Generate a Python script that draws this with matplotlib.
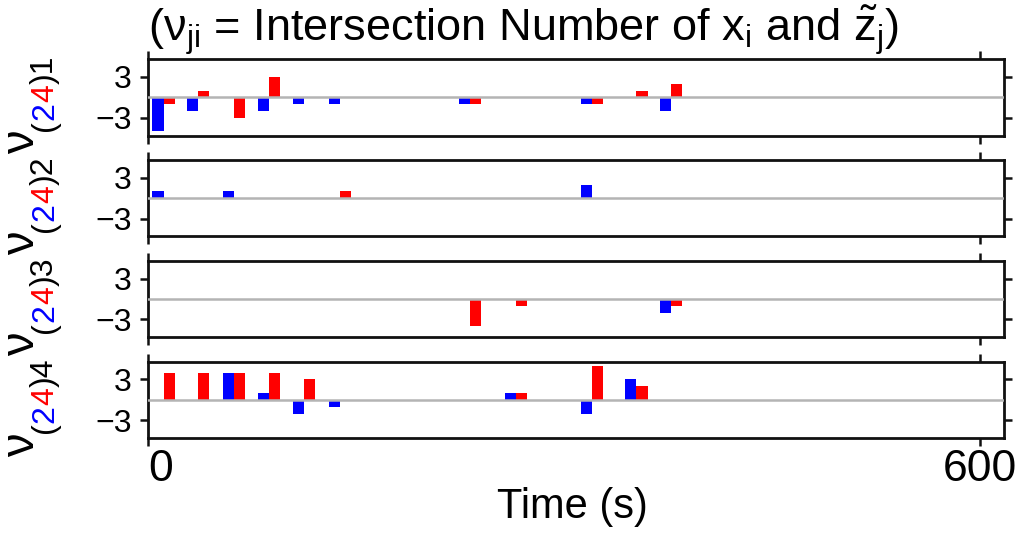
# -*- coding: utf-8 -*-
# 四个面板的交点数柱状图 (blue / red 成对)
import matplotlib.pyplot as plt
from matplotlib.transforms import IdentityTransform

plt.rcParams['font.family'] = ['Liberation Sans', 'DejaVu Sans']
plt.rcParams['mathtext.fontset'] = 'custom'
plt.rcParams['mathtext.rm'] = 'Liberation Sans'
plt.rcParams['mathtext.it'] = 'Liberation Sans'

# 数据：每一对柱子的分界时刻 (s)，蓝柱在左，红柱在右
t_pair = [11, 36, 62, 87, 112, 138, 232, 265, 320, 352, 377]
blue1 = [-5, -2, 0, -2, -1, -1, -1, 0, -1, 0, -2]
red1 = [-1, 1, -3, 3, 0, 0, -1, 0, -1, 1, 2]
blue2 = [1, 0, 1, 0, 0, 0, 0, 0, 2, 0, 0]
red2 = [0, 0, 0, 0, 0, 1, 0, 0, 0, 0, 0]
blue3 = [0, 0, 0, 0, 0, 0, 0, 0, 0, 0, -2]
red3 = [0, 0, 0, 0, 0, 0, -4, -1, 0, 0, -1]
blue4 = [0, 0, 4, 1, -2, -1, 0, 1, -2, 3, 0]
red4 = [4, 4, 4, 4, 3, 0, 0, 1, 5, 2, 0]
blues = [blue1, blue2, blue3, blue4]
reds = [red1, red2, red3, red4]
bar_w = 8

W, H = 1021, 536
fig = plt.figure(figsize=(W / 100, H / 100), dpi=100)

for k in range(4):
    top = 59.2 + 100.85 * k
    ax = fig.add_axes([148.3 / W, 1 - (top + 76.3) / H, 856 / W, 76.3 / H])
    ax.bar(t_pair, blues[k], width=-bar_w, align='edge', color='#0000ff', linewidth=0)
    ax.bar(t_pair, reds[k], width=bar_w, align='edge', color='#ff0000', linewidth=0)
    ax.axhline(0, color='#b4b4b4', lw=1.8, zorder=3)
    ax.set_xlim(0, 617.3)
    ax.set_ylim(-5.6, 5.6)
    ax.set_yticks([-3, 3])
    ax.set_xticks([0, 600])
    ax.tick_params(direction='out', length=6, width=1.8, color='#111111',
                   top=True, right=True, labelsize=23, pad=6)
    ax.tick_params(axis='x', labelsize=32, pad=2, labelbottom=(k == 3))
    for s in ax.spines.values():
        s.set_linewidth(2)
        s.set_color('#111111')
    if k == 3:
        ax.get_xticklabels()[0].set_horizontalalignment('left')

# 纵轴标签 ν(24)k，2 蓝色 4 红色
fig.canvas.draw()
rend = fig.canvas.get_renderer()


def put(x, y, s, size, color='black'):
    t = fig.text(x, H - y, s, fontsize=size, color=color, rotation=90,
                 rotation_mode='anchor', ha='left', va='baseline',
                 transform=IdentityTransform())
    return y - t.get_window_extent(rend).height


for k in range(4):
    c = 97.35 + 100.85 * k
    y = put(34, c + 57, 'ν', 34)
    for s, col in [('(', 'black'), ('2', '#0000ff'), ('4', '#ff0000'), (')' + str(k + 1), 'black')]:
        y = put(53, y, s, 23, col)

fig.text(148.3 / W, 1 - 42 / H,
         r'($\mathregular{ν_{ji}}$ = Intersection Number of $\mathregular{x_i}$ and $\mathregular{\tilde{z}_j}$)',
         fontsize=32.5, ha='left', va='baseline')
fig.text(572.5 / W, 1 - 518 / H, 'Time (s)', fontsize=30, ha='center', va='baseline')

plt.savefig('out.png', dpi=100)
